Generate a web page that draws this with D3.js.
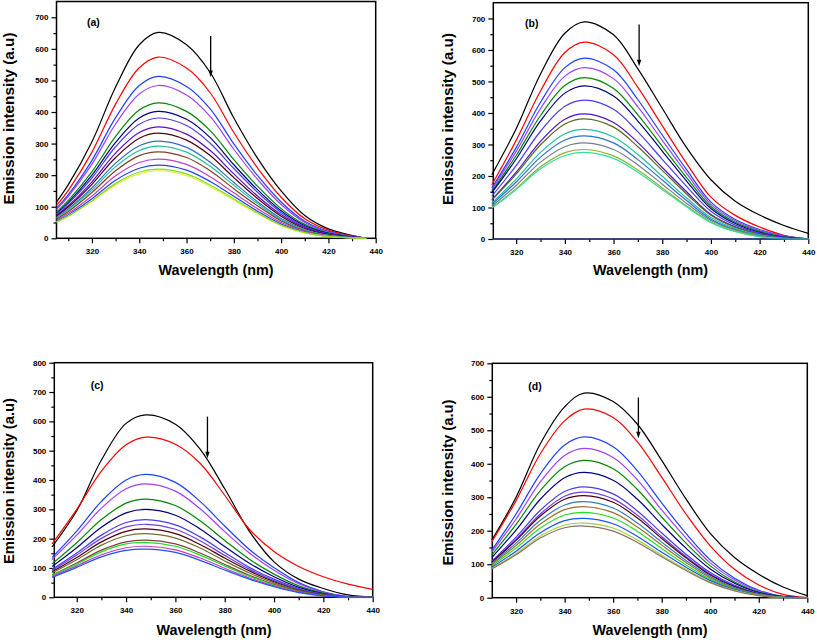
<!DOCTYPE html>
<html><head><meta charset="utf-8">
<script src="https://cdn.jsdelivr.net/npm/d3@7"></script>
<style>html,body{margin:0;padding:0;background:#fff}svg{display:block}</style>
</head><body><svg id="chart" width="817" height="640"></svg>
<script>
// ---------- DATA ----------
const wlA = [305,310,320,330,340,348,360,370,380,390,400,410,420,436];
const wlB = [310,320,330,340,348,360,370,380,390,400,410,420,430,440];
const wlC = [310,320,330,340,348,360,370,380,390,400,410,420,430,440];
const wlD = [310,320,330,340,348,360,370,380,390,400,410,420,430,440];

const seriesA = [
 [115,170,306,479,613,652,613,525,381,254,150,72,30,0],
 [104,152,273,425,540,574,539,461,335,223,130,62,26,0],
 [95,138,247,382,484,513,481,410,299,199,115,54,22,0],
 [91,133,235,362,457,484,454,386,282,187,107,50,20,0],
 [83,120,211,323,406,429,402,341,249,165,94,44,17,0],
 [79,114,200,304,381,402,377,319,233,154,87,40,16,0],
 [77,110,191,290,361,381,357,301,221,146,82,37,14,0],
 [73,103,179,270,335,353,330,278,204,134,75,34,13,0],
 [70,99,171,256,317,333,311,262,192,126,70,31,12,0],
 [66,93,160,238,293,308,288,241,177,116,63,28,10,0],
 [64,90,153,227,278,292,273,228,168,110,59,26,9,0],
 [61,85,145,214,262,274,256,214,157,103,55,24,8,0],
 [57,79,134,198,240,251,234,195,144,94,50,22,7,0],
 [54,74,125,184,222,232,216,180,133,86,45,19,6,0],
 [51,70,117,170,204,214,199,164,121,79,40,17,5,0],
 [52,71,119,174,210,219,204,169,125,81,42,18,6,0]
];
const colorsA = ["#000000","#ff0000","#1f3fff","#a040ff","#008a00","#000080","#4a3cf0","#5a10c8","#500010","#3070c0","#20c0a0","#804020","#c040c0","#2040ff","#e8e830","#80e020"];

const seriesB = [
 [204,350,524,653,689,648,540,415,290,188,120,76,43,18],
 [172,313,470,592,625,585,481,360,240,133,75,38,12,0],
 [162,290,434,544,574,537,442,330,220,117,62,30,10,0],
 [157,278,414,517,544,509,419,313,208,110,58,27,9,0],
 [151,265,392,487,512,478,394,294,195,103,53,24,7,0],
 [147,254,375,463,486,454,374,279,184,97,49,21,6,0],
 [136,233,342,421,441,412,340,253,167,88,44,19,5,0],
 [125,212,310,380,397,370,306,227,150,78,39,16,4,0],
 [123,206,299,365,381,355,293,218,143,75,37,15,3,0],
 [114,190,275,334,348,324,268,199,130,68,33,13,2,0],
 [110,181,260,314,327,305,252,187,122,63,30,11,2,0],
 [104,170,244,293,305,284,235,174,113,59,28,9,1,0],
 [99,160,229,274,284,264,219,162,105,54,25,8,1,0],
 [98,157,223,265,275,256,212,157,102,52,23,7,1,0],
 [0,0,0,0,0,0,0,0,0,0,0,0,0,0]
];
const colorsB = ["#000000","#ff0000","#1f3fff","#a040ff","#008a00","#000080","#4a3cf0","#5010c8","#556b20","#20c0a0","#3070d0","#708090","#90b030","#30e0a0","#3050c0"];

const seriesC = [
 [172,295,468,593,622,590,505,370,225,121,62,30,8,0],
 [182,300,430,520,546,522,457,348,232,156,105,70,45,27],
 [136,226,327,400,419,392,327,243,163,101,50,19,2,0],
 [129,212,304,370,387,362,302,224,151,92,46,17,2,0],
 [114,186,265,321,335,313,261,194,130,79,39,14,1,0],
 [105,169,239,288,300,280,233,173,116,70,34,12,1,0],
 [95,151,212,255,265,247,206,153,102,62,30,10,1,0],
 [91,144,201,240,249,232,193,143,96,57,28,10,1,0],
 [87,136,189,225,233,217,180,134,90,53,25,9,1,0],
 [83,128,178,210,217,202,168,124,83,49,23,8,1,0],
 [76,117,161,189,195,182,151,112,75,44,21,7,1,0],
 [75,113,155,182,187,174,144,107,71,42,19,6,1,0],
 [71,107,145,169,174,162,134,99,66,39,18,5,1,0],
 [68,102,138,160,164,153,126,93,62,36,16,5,1,0]
];
const colorsC = ["#000000","#ff0000","#1f3fff","#a040ff","#008a00","#000080","#4a3cf0","#7040e0","#500010","#707030","#804040","#20e020","#c040c0","#2050ff"];

const seriesD = [
 [172,300,460,570,611,586,518,410,295,192,120,70,32,6],
 [167,290,430,528,563,538,465,360,250,155,85,38,10,0],
 [142,250,370,456,480,451,379,283,192,113,58,22,4,0],
 [136,235,346,425,446,419,352,262,178,104,53,20,3,0],
 [128,219,320,391,410,385,323,241,163,95,47,17,3,0],
 [120,202,294,358,374,351,294,219,148,86,43,15,3,0],
 [109,181,261,317,331,310,259,193,130,75,37,13,2,0],
 [107,174,250,303,315,295,246,183,123,71,35,12,2,0],
 [106,171,244,294,305,285,238,177,119,68,33,11,2,0],
 [102,163,231,277,287,268,223,166,111,63,30,10,1,0],
 [99,156,220,263,272,254,211,157,105,59,28,10,1,0],
 [95,148,208,247,255,238,198,147,98,55,26,9,1,0],
 [91,139,194,230,237,221,183,136,91,51,24,8,1,0],
 [87,132,184,217,223,208,172,127,85,47,22,7,1,0],
 [86,128,178,209,214,199,165,122,81,45,20,6,1,0]
];
const colorsD = ["#000000","#ff0000","#1f3fff","#a040ff","#008a00","#000080","#4a3cf0","#7040e0","#500010","#3080c0","#a07030","#20e020","#2050ff","#a0d040","#907060"];

// arrows: [wavelength, top value, tip value]
const arrowA = [370.2, 641, 511];
const arrowB = [370.5, 681, 548];
const arrowC = [373, 616, 474];
const arrowD = [370.4, 598, 476];

const xDomains = [[305,440],[310.6,440],[310.9,440],[310.2,440]];
const yMaxes = [750, 750, 800, 700];
const panelLabels = ["(a)","(b)","(c)","(d)"];
const xTickLabels = [320,340,360,380,400,420,440];
const xTitle = "Wavelength (nm)";
const yTitle = "Emission intensity (a.u)";

// ---------- LAYOUT ----------
const boxes = [
  {l:56.5, r:375.7, t:1.5, b:238.3, ylx:14, yly:118.5, yll:172, xlx:216, xly:275},
  {l:493.3, r:808.3, t:2.7, b:239, ylx:452.5, yly:119, yll:172, xlx:650.5, xly:275},
  {l:54.3, r:372.7, t:362.7, b:597.3, ylx:14, yly:481, yll:166, xlx:214, xly:635},
  {l:492.3, r:807.3, t:363.3, b:597.7, ylx:452.5, yly:482.5, yll:166, xlx:650, xly:635}
];
const labelPos = [[30.5,24.5],[31.7,24.5],[36.4,26],[36,26.5]];

const panels = [
  {wl:wlA, series:seriesA, colors:colorsA, arrow:arrowA},
  {wl:wlB, series:seriesB, colors:colorsB, arrow:arrowB},
  {wl:wlC, series:seriesC, colors:colorsC, arrow:arrowC},
  {wl:wlD, series:seriesD, colors:colorsD, arrow:arrowD}
];

const svg = d3.select("#chart");
const font = "'Liberation Sans', Arial, Helvetica, sans-serif";

panels.forEach((p, i) => {
  const bx = boxes[i];
  const x = d3.scaleLinear().domain(xDomains[i]).range([bx.l, bx.r]);
  const y = d3.scaleLinear().domain([0, yMaxes[i]]).range([bx.b, bx.t]);
  const g = svg.append("g");

  // frame
  g.append("rect").attr("x", bx.l).attr("y", bx.t)
    .attr("width", bx.r - bx.l).attr("height", bx.b - bx.t)
    .attr("fill", "none").attr("stroke", "#000").attr("stroke-width", 1.5);

  // axes (ticks outward)
  const xMajor = xTickLabels.filter(v => v >= xDomains[i][0] && v <= xDomains[i][1]);
  const xMinor = d3.range(310, 441, 20).filter(v => v > xDomains[i][0] && v < xDomains[i][1]);
  const yMajor = d3.range(0, yMaxes[i] + 1, 100);
  const yMinor = d3.range(50, yMaxes[i], 100);

  const xAxis = g.append("g").attr("transform", `translate(0,${bx.b})`)
    .call(d3.axisBottom(x).tickValues(xMajor).tickSize(5).tickPadding(4).tickFormat(d3.format("d")));
  const xAxisMinor = g.append("g").attr("transform", `translate(0,${bx.b})`)
    .call(d3.axisBottom(x).tickValues(xMinor).tickSize(3).tickFormat(""));
  const yAxis = g.append("g").attr("transform", `translate(${bx.l},0)`)
    .call(d3.axisLeft(y).tickValues(yMajor).tickSize(5).tickPadding(3).tickFormat(d3.format("d")));
  const yAxisMinor = g.append("g").attr("transform", `translate(${bx.l},0)`)
    .call(d3.axisLeft(y).tickValues(yMinor).tickSize(3).tickFormat(""));
  [xAxis, xAxisMinor, yAxis, yAxisMinor].forEach(a => {
    a.select(".domain").remove();
    a.selectAll("line").attr("stroke", "#000").attr("stroke-width", 1.2);
    a.selectAll("text").attr("font-family", font).attr("font-size", 8)
      .attr("font-weight", "bold").attr("fill", "#000");
  });
  xAxis.selectAll("text").attr("dy", "0.9em");

  // curves
  const line = d3.line().x(d => x(d[0])).y(d => y(Math.max(0, d[1])))
    .curve(d3.curveCatmullRom.alpha(0.5));
  p.series.forEach((s, k) => {
    g.append("path").datum(p.wl.map((w, j) => [w, s[j]]))
      .attr("d", line).attr("fill", "none")
      .attr("stroke", p.colors[k]).attr("stroke-width", 1.2);
  });

  // arrow
  const [aw, atop, atip] = p.arrow;
  const ax = x(aw), ay1 = y(atop), ay2 = y(atip);
  g.append("line").attr("x1", ax).attr("x2", ax).attr("y1", ay1).attr("y2", ay2 - 5)
    .attr("stroke", "#000").attr("stroke-width", 1.3);
  g.append("path").attr("d", `M${ax-2.2},${ay2-6.5}L${ax+2.2},${ay2-6.5}L${ax},${ay2}Z`)
    .attr("fill", "#000");

  // panel label
  g.append("text").attr("x", bx.l + labelPos[i][0]).attr("y", bx.t + labelPos[i][1])
    .attr("font-family", font).attr("font-size", 10.5).attr("font-weight", "bold")
    .text(panelLabels[i]);

  // axis titles
  g.append("text").attr("x", bx.xlx).attr("y", bx.xly).attr("text-anchor", "middle")
    .attr("font-family", font).attr("font-size", 15).attr("font-weight", "bold")
    .attr("textLength", 115).attr("lengthAdjust", "spacingAndGlyphs")
    .text(xTitle);
  g.append("text").attr("transform", `translate(${bx.ylx},${bx.yly}) rotate(-90)`)
    .attr("text-anchor", "middle")
    .attr("font-family", font).attr("font-size", 15).attr("font-weight", "bold")
    .attr("textLength", bx.yll).attr("lengthAdjust", "spacingAndGlyphs")
    .text(yTitle);
});
</script></body></html>
